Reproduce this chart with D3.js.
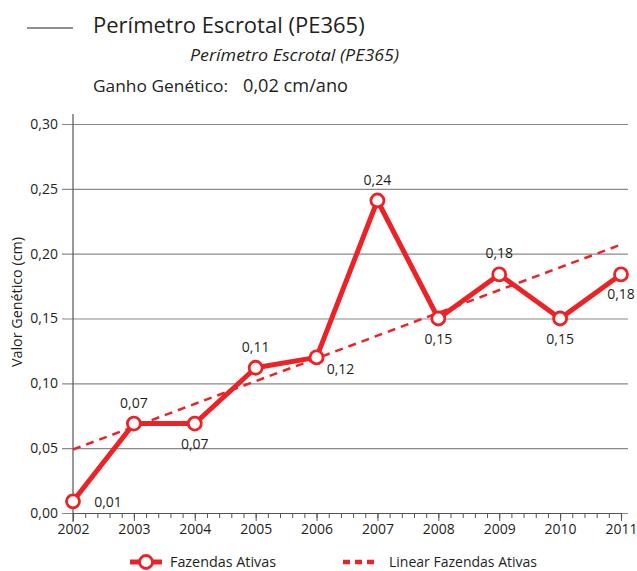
<!DOCTYPE html>
<html>
<head>
<meta charset="utf-8">
<script src="https://cdn.jsdelivr.net/npm/d3@7"></script>
<style>
  body { margin: 0; background: #fff; }
  text { font-family: "Open Sans", "Noto Sans", sans-serif; fill: #231f20; }
</style>
</head>
<body>
<svg id="chart"></svg>
<script>
// Data
const years = [2002, 2003, 2004, 2005, 2006, 2007, 2008, 2009, 2010, 2011];
const values = [0.009, 0.069, 0.069, 0.112, 0.120, 0.241, 0.150, 0.184, 0.150, 0.184];
const valueLabels = ["0,01", "0,07", "0,07", "0,11", "0,12", "0,24", "0,15", "0,18", "0,15", "0,18"];
// where each value label sits relative to its point
const labelPlace = ["right", "above", "below", "above", "belowRight", "above", "below", "above", "below", "below"];
const trendYears = [2002, 2011];
const trendValues = [0.049, 0.207];
const yTicks = [0, 0.05, 0.10, 0.15, 0.20, 0.25, 0.30];

const W = 637, H = 571;
const margin = { top: 124, right: 16, bottom: 58, left: 73 };
const width = 621 - margin.left;
const height = 513 - margin.top;

const red = "#ec2227";

const root = d3.select("#chart").attr("width", W).attr("height", H);

// header
root.append("line")
    .attr("x1", 27).attr("x2", 73).attr("y1", 28).attr("y2", 28)
    .attr("stroke", "#231f20").attr("stroke-width", 1);
root.append("text")
    .attr("x", 93).attr("y", 33)
    .style("font-size", "22px")
    .text("Perímetro Escrotal (PE365)");
root.append("text")
    .attr("x", 190).attr("y", 61)
    .style("font-size", "17px").style("font-style", "italic")
    .attr("textLength", 209).attr("lengthAdjust", "spacingAndGlyphs")
    .text("Perímetro Escrotal (PE365)");
root.append("text")
    .attr("x", 93).attr("y", 92)
    .style("font-size", "17px")
    .attr("textLength", 135).attr("lengthAdjust", "spacingAndGlyphs")
    .text("Ganho Genético:");
root.append("text")
    .attr("x", 243).attr("y", 92)
    .style("font-size", "18px")
    .attr("textLength", 105).attr("lengthAdjust", "spacingAndGlyphs")
    .text("0,02 cm/ano");

const svg = root.append("g")
    .attr("transform", `translate(${margin.left},${margin.top})`);

const x = d3.scaleLinear().domain([2002, 2011]).range([0, width]);
const y = d3.scaleLinear().domain([0, 0.30]).range([height, 0]);

const fmt = d => d3.format(".2f")(d).replace(".", ",");

// gridlines + y axis
const yAxis = svg.append("g")
    .call(d3.axisLeft(y).tickValues(yTicks).tickFormat(fmt).tickSize(-(width + 7)).tickPadding(4));
yAxis.select(".domain").remove();
yAxis.selectAll(".tick line")
    .attr("x1", -11)
    .attr("stroke", "#8a8a8a").attr("stroke-width", 1.2);
yAxis.selectAll(".tick text")
    .attr("x", -15)
    .style("font-size", "14px").style("font-family", "'Open Sans', sans-serif").attr("fill", "#231f20");

// y axis line
svg.append("line")
    .attr("x1", 0).attr("x2", 0).attr("y1", -10).attr("y2", height + 9)
    .attr("stroke", "#555").attr("stroke-width", 1.2);

// x axis with minor ticks
const minor = d3.range(2002, 2011.001, 0.2);
const xMinor = svg.append("g")
    .attr("transform", `translate(0,${height})`)
    .call(d3.axisBottom(x).tickValues(minor).tickSize(5).tickFormat(""));
xMinor.select(".domain").attr("stroke", "#555").attr("stroke-width", 1.2);
xMinor.selectAll(".tick line").attr("stroke", "#555");

const xAxis = svg.append("g")
    .attr("transform", `translate(0,${height})`)
    .call(d3.axisBottom(x).tickValues(years).tickFormat(d3.format("d")).tickSize(8).tickPadding(3));
xAxis.select(".domain").remove();
xAxis.selectAll(".tick line").attr("stroke", "#555");
xAxis.selectAll(".tick text")
    .style("font-size", "14px").style("font-family", "'Open Sans', sans-serif").attr("fill", "#231f20");

// y title
svg.append("text")
    .attr("transform", `translate(${17 - margin.left},${302 - margin.top}) rotate(-90)`)
    .attr("text-anchor", "middle")
    .attr("dy", "0.35em")
    .style("font-size", "14px")
    .attr("textLength", 130).attr("lengthAdjust", "spacingAndGlyphs")
    .text("Valor Genético (cm)");

// trend line
svg.append("line")
    .attr("x1", x(trendYears[0])).attr("y1", y(trendValues[0]))
    .attr("x2", x(trendYears[1])).attr("y2", y(trendValues[1]))
    .attr("stroke", red).attr("stroke-width", 2.5)
    .attr("stroke-dasharray", "8,6");

// series line
const data = years.map((yr, i) => ({ year: yr, value: values[i], label: valueLabels[i], place: labelPlace[i] }));
svg.append("path")
    .datum(data)
    .attr("fill", "none")
    .attr("stroke", red).attr("stroke-width", 5)
    .attr("stroke-linejoin", "round")
    .attr("d", d3.line().x(d => x(d.year)).y(d => y(d.value)));

svg.selectAll(".pt")
    .data(data)
  .enter().append("circle")
    .attr("class", "pt")
    .attr("cx", d => x(d.year)).attr("cy", d => y(d.value))
    .attr("r", 6.5)
    .attr("fill", "#fff").attr("stroke", red).attr("stroke-width", 2.8);

// value labels
const offsets = {
  above: [0, -16],
  below: [0, 25],
  right: [35, 6],
  belowRight: [24, 17]
};
svg.selectAll(".lbl")
    .data(data)
  .enter().append("text")
    .attr("class", "lbl")
    .attr("x", d => x(d.year) + offsets[d.place][0])
    .attr("y", d => y(d.value) + offsets[d.place][1])
    .attr("text-anchor", "middle")
    .style("font-size", "14px")
    .text(d => d.label);

// legend
const leg = root.append("g").attr("transform", "translate(0,562)");
leg.append("line")
    .attr("x1", 130).attr("x2", 162).attr("y1", 0).attr("y2", 0)
    .attr("stroke", red).attr("stroke-width", 5);
leg.append("circle")
    .attr("cx", 146).attr("cy", 0).attr("r", 6.5)
    .attr("fill", "#fff").attr("stroke", red).attr("stroke-width", 2.8);
leg.append("text")
    .attr("x", 170).attr("y", 5)
    .style("font-size", "14px")
    .attr("textLength", 106).attr("lengthAdjust", "spacingAndGlyphs")
    .text("Fazendas Ativas");
leg.append("line")
    .attr("x1", 343).attr("x2", 375).attr("y1", 0).attr("y2", 0)
    .attr("stroke", red).attr("stroke-width", 4.5)
    .attr("stroke-dasharray", "7,5");
leg.append("text")
    .attr("x", 389).attr("y", 5)
    .style("font-size", "14px")
    .attr("textLength", 148).attr("lengthAdjust", "spacingAndGlyphs")
    .text("Linear Fazendas Ativas");
</script>
</body>
</html>
